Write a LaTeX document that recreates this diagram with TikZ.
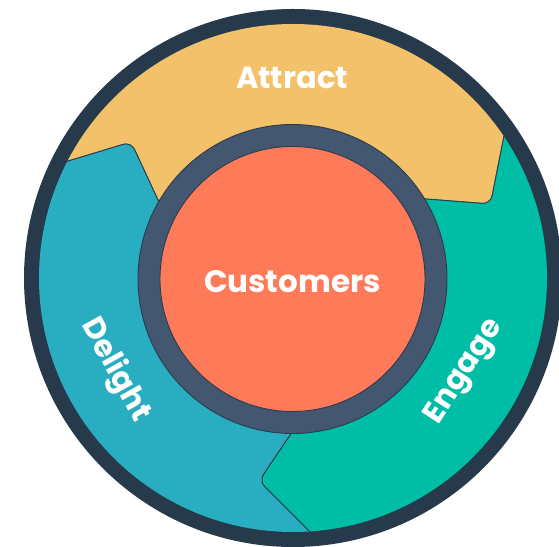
\documentclass[tikz,border=0pt]{standalone}
\usepackage{fontspec}
\setmainfont{Poppins}
\usetikzlibrary{calc}
\definecolor{ringdark}{HTML}{273A4B}
\definecolor{edge}{HTML}{2B3C4E}
\definecolor{attractc}{HTML}{F2C16A}
\definecolor{engagec}{HTML}{00BDA5}
\definecolor{delightc}{HTML}{29ADC0}
\definecolor{slate}{HTML}{435770}
\definecolor{coral}{HTML}{FF7A59}
\begin{document}
\begin{tikzpicture}[x=1pt,y=1pt,
  seg/.style={draw=edge, line width=0.9pt, rounded corners=8pt},
  lbl/.style={text=white, font=\bfseries\fontsize{30.5}{36}\selectfont, inner sep=0pt}]
\useasboundingbox (0,0) rectangle (559,546);
\coordinate (O) at (293,268);
\coordinate (O2) at (292.5,267);
% boundary Attract/Delight
\coordinate (adOut) at (65,384);
\coordinate (adC) at (131,404);
\coordinate (adIn) at (158,346);
% boundary Attract/Engage
\coordinate (aeOut) at (504,410);
\coordinate (aeC) at (490.5,342);
\coordinate (aeIn) at (426,347);
% boundary Engage/Delight
\coordinate (edIn) at (292,114);
\coordinate (edC) at (259,65);
\coordinate (edOut) at (308,16);
\coordinate (adOx) at ($(adC)!1.3!(adOut)$);
\coordinate (adIx) at ($(adC)!1.3!(adIn)$);
\coordinate (aeOx) at ($(aeC)!1.3!(aeOut)$);
\coordinate (aeIx) at ($(aeC)!1.3!(aeIn)$);
\coordinate (edOx) at ($(edC)!1.3!(edOut)$);
\coordinate (edIx) at ($(edC)!1.3!(edIn)$);

\node[circle, fill=ringdark, minimum size=538pt, inner sep=0pt] (rim) at (O) {};
\begin{scope}
\clip (O) circle (254);
\path[seg, fill=attractc] (O) -- (aeIx) -- (aeC) -- (aeOx) -- ($(O)+(45:330)$) -- ($(O)+(90:330)$) -- ($(O)+(135:330)$) -- (adOx) -- (adC) -- (adIx) -- cycle;
\path[seg, fill=engagec] (O) -- (edIx) -- (edC) -- (edOx) -- ($(O)+(300:330)$) -- ($(O)+(345:330)$) -- ($(O)+(15:330)$) -- (aeOx) -- (aeC) -- (aeIx) -- cycle;
\path[seg, fill=delightc] (O) -- (adIx) -- (adC) -- (adOx) -- ($(O)+(165:330)$) -- ($(O)+(210:330)$) -- ($(O)+(255:330)$) -- (edOx) -- (edC) -- (edIx) -- cycle;
\end{scope}

\node[circle, draw=edge, line width=0.9pt, fill=slate, minimum size=309pt, inner sep=0pt] (hubring) at (O2) {};
\node[circle, draw=edge, line width=0.9pt, fill=coral, minimum size=265pt, inner sep=0pt] (hub) at (O2) {};

\node[lbl, font=\bfseries\fontsize{31}{36}\selectfont] (customers) at (292.5,264) {Customers};
\node[lbl] (attract) at (292,468) {Attract};
\node[lbl, rotate=-61] (delight) at (115.5,176) {Delight};
\node[lbl, rotate=57] (engage) at (465,174) {Engage};
\end{tikzpicture}
\end{document}
